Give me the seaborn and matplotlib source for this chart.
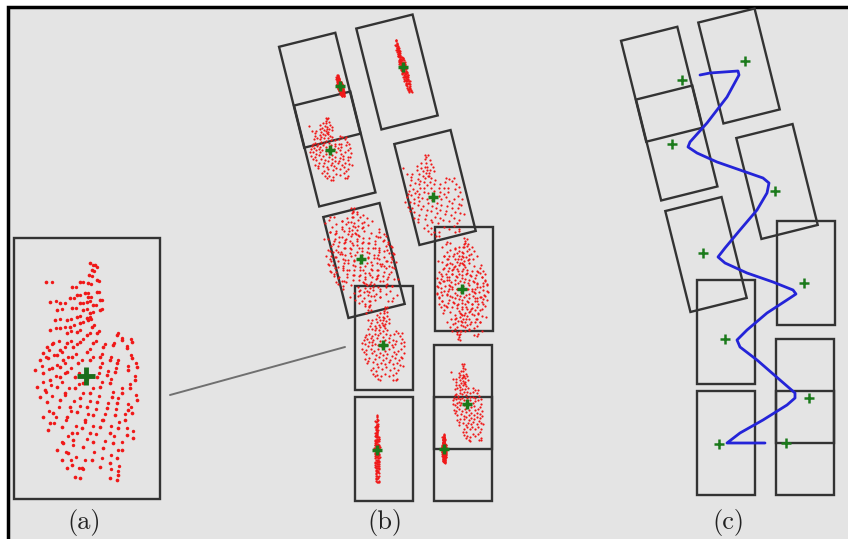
import numpy as np
import pandas as pd
import matplotlib.pyplot as plt
from matplotlib.patches import Rectangle
import seaborn as sns

sns.set_theme(style="white")

# boxes of panel (b): centre, tilt in degrees (all the same size)
box_x = [319.75, 334.75, 397, 435, 364, 463.5, 384, 384, 463, 463]
box_y = [90.25, 149, 72, 187.5, 260.5, 279, 337.5, 449, 397, 448.5]
box_tilt = [-14, -14, -14, -14, -14, 0, 0, 0, 0, 0]
box_w, box_h = 58, 104
shift_c = (342, -6)   # panel (c) repeats the boxes of (b)

# green crosses (cloud centres) in panel (b)
cross_x = [340, 330, 403, 433, 361, 462, 383, 377, 467, 444]
cross_y = [86, 150, 67, 197, 259, 289, 345, 450, 404, 449]

# red clouds of (b), sized relative to the zoomed cloud in (a)
cloud_sx = [0.05, 0.40, 0.06, 0.55, 0.66, 0.50, 0.42, 0.05, 0.28, 0.04]
cloud_sy = [0.10, 0.29, 0.25, 0.38, 0.46, 0.45, 0.34, 0.31, 0.36, 0.13]
cloud_tilt = [-15, -10, -15, -14, -14, 0, 0, 0, -8, 0]
cloud_layers = [1, 1, 1, 1, 2, 2, 1, 1, 1, 1]

# points of the zoomed cloud (a) (offsets from its cross, x3)
pat_x = [270, 285, 275, 268, 138, 215, 240, 265, 290, 210, 230, 255, 265, 290, 300, 180, 240,
         260, 280, 150, 170, 215, 250, 270, 300, 230, 260, 200, 165, 180, 210, 240, 265, 275,
         200, 230, 260, 290, 350, 150, 140, 160, 180, 200, 220, 240, 280, 310, 340, 365, 395,
         380, 130, 170, 260, 120, 145, 190, 215, 235, 270, 300, 330, 350, 395, 410, 180, 300,
         105, 130, 155, 200, 225, 290, 320, 345, 385, 405, 150, 180, 330, 110, 135, 170, 195,
         225, 250, 270, 300, 335, 365, 390, 120, 140, 180, 210, 240, 260, 290, 320, 350, 385,
         410, 130, 160, 200, 230, 255, 280, 310, 345, 375, 395, 150, 145, 185, 215, 245, 270,
         300, 330, 355, 380, 400, 190, 220, 250, 280, 310, 340, 365, 170, 205, 185, 215, 245,
         275, 300, 330, 350, 225, 240, 330, 350, 355, 200]
pat_y = [130, 135, 150, 165, 185, 200, 185, 190, 180, 235, 225, 220, 230, 215, 240, 250, 250,
         245, 255, 245, 270, 265, 270, 280, 270, 290, 295, 300, 300, 325, 320, 310, 300, 320,
         340, 335, 345, 340, 345, 330, 380, 370, 390, 370, 380, 365, 370, 380, 375, 360, 365,
         385, 400, 405, 395, 420, 415, 420, 410, 430, 420, 410, 420, 430, 415, 440, 440, 440,
         450, 460, 445, 455, 470, 470, 465, 455, 450, 480, 480, 470, 490, 500, 510, 500, 520,
         505, 490, 520, 500, 530, 520, 505, 530, 545, 540, 560, 535, 560, 545, 565, 550, 570,
         540, 590, 580, 590, 575, 600, 585, 600, 585, 600, 580, 610, 630, 620, 640, 625, 640,
         620, 640, 625, 645, 655, 670, 660, 680, 665, 685, 670, 690, 690, 700, 720, 735, 745,
         720, 740, 730, 715, 770, 775, 775, 780, 765, 745]
pat_cx, pat_cy = 258, 468
cross_a = (86, 376)

# blue path through the centres in panel (c)
path_x = [700, 710, 738, 739, 727, 707, 690, 688, 697, 717, 740, 763, 769, 767, 757, 740,
          725, 718, 725, 747, 773, 793, 796, 790, 767, 747, 737, 740, 757, 780, 795, 795,
          787, 763, 740, 727, 765]
path_y = [75, 73, 71, 75, 97, 123, 142, 147, 153, 162, 170, 178, 183, 193, 210, 230,
          248, 257, 263, 273, 282, 290, 294, 298, 313, 330, 340, 347, 360, 380, 393, 398,
          405, 420, 433, 443, 443]

# thin line from (a) to the box it magnifies
link_x = [170, 345]
link_y = [395, 347]

labels = ["(a)", "(b)", "(c)"]
label_x = [84, 385, 728]

fig = plt.figure(figsize=(8.48, 5.39), dpi=100)
fig.patch.set_facecolor("white")
ax = fig.add_axes([0, 0, 1, 1])
ax.set_xlim(0, 848)
ax.set_ylim(539, 0)
ax.axis("off")

ax.add_patch(Rectangle((8, 7), 900, 600, facecolor="#e4e4e4", edgecolor="black", lw=2.5, zorder=0))

box_style = dict(fill=False, edgecolor="#333333", lw=1.7, zorder=2)
ax.add_patch(Rectangle((14, 238), 146, 261, **box_style))
for dx, dy in [(0, 0), shift_c]:
    for bx, by, bt in zip(box_x, box_y, box_tilt):
        ax.add_patch(Rectangle((bx + dx - box_w / 2, by + dy - box_h / 2), box_w, box_h,
                               angle=bt, rotation_point="center", **box_style))

px = (np.array(pat_x) - pat_cx) / 3.0
py = (np.array(pat_y) - pat_cy) / 3.0

# zoomed cloud (a)
cloud_a = pd.DataFrame({"x": px + cross_a[0], "y": py + cross_a[1]})
sns.scatterplot(data=cloud_a, x="x", y="y", ax=ax, color="#f01818", s=7, linewidth=0, zorder=3)
# second, slightly shifted pass for the density of the original
sns.scatterplot(x=px * 0.93 + cross_a[0] + 3, y=py * 0.95 + cross_a[1] - 4, ax=ax,
                color="#f01818", s=6, linewidth=0, zorder=3)

# clouds of (b)
rows = []
for i in range(len(cross_x)):
    t = np.deg2rad(cloud_tilt[i])
    for k in range(cloud_layers[i]):
        sgn = 1 if k == 0 else -1
        u = sgn * px * cloud_sx[i]
        v = sgn * py * cloud_sy[i]
        xs = u * np.cos(t) - v * np.sin(t) + cross_x[i]
        ys = u * np.sin(t) + v * np.cos(t) + cross_y[i]
        rows.append(pd.DataFrame({"x": xs, "y": ys}))
clouds = pd.concat(rows)
sns.scatterplot(data=clouds, x="x", y="y", ax=ax, color="#f01818", s=2.5, linewidth=0, zorder=3)

# centres
sns.scatterplot(x=[cross_a[0]], y=[cross_a[1]], ax=ax, marker="+", s=170, linewidth=3.5,
                color="#1b6e1b", zorder=5)
sns.scatterplot(x=cross_x, y=cross_y, ax=ax, marker="+", s=60, linewidth=2.5,
                color="#1b7a1b", zorder=5)
sns.scatterplot(x=np.array(cross_x) + shift_c[0], y=np.array(cross_y) + shift_c[1], ax=ax,
                marker="+", s=42, linewidth=1.8, color="#1b7a1b", zorder=5)

sns.lineplot(x=path_x, y=path_y, sort=False, estimator=None, ax=ax, color="#2424d8",
             lw=2.0, zorder=4)
ax.plot(link_x, link_y, color="#707070", lw=1.4, zorder=1)

for lab, lx in zip(labels, label_x):
    ax.text(lx, 529, lab, ha="center", va="baseline", fontsize=19, family="cmr10",
            color="#222222")

fig.savefig("out.png", dpi=100, facecolor="white")
